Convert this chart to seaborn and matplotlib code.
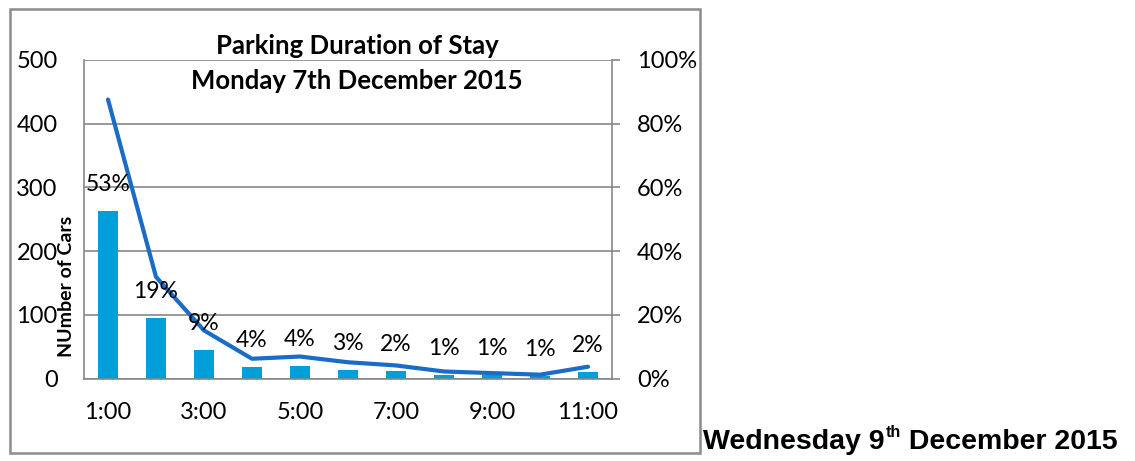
import numpy as np
import pandas as pd
import matplotlib
matplotlib.use("Agg")
import matplotlib.pyplot as plt
from matplotlib.patches import Rectangle
from matplotlib.ticker import PercentFormatter
import seaborn as sns

# Length-of-stay bands (hours) and the number of cars in each
durations = ["1:00", "2:00", "3:00", "4:00", "5:00", "6:00",
             "7:00", "8:00", "9:00", "10:00", "11:00"]
cars = [263, 95, 45, 18, 20, 14, 12, 6, 5, 4, 10]
# Series plotted on the secondary (percentage) axis
line_share = [0.876, 0.319, 0.151, 0.062, 0.069, 0.051,
              0.041, 0.022, 0.017, 0.012, 0.037]

title_lines = ["Parking Duration of Stay", "Monday 7th December 2015"]
left_ticks = [0, 100, 200, 300, 400, 500]
right_ticks = [0.0, 0.2, 0.4, 0.6, 0.8, 1.0]

df = pd.DataFrame({"duration": durations, "cars": cars, "share": line_share})
total = df["cars"].sum()
shares_of_total = [f"{round(c / total * 100):.0f}%" for c in df["cars"]]

BAR = "#009fda"
LINE = "#1a6cc6"
GRID = "#878787"
TICK_FS = 17

sns.set_style("white")
plt.rcParams["font.family"] = ["Lato", "DejaVu Sans"]
plt.rcParams["text.color"] = "black"
plt.rcParams["xtick.labelcolor"] = "black"
plt.rcParams["ytick.labelcolor"] = "black"

W, H = 1135, 461
fig = plt.figure(figsize=(W / 100, H / 100), dpi=100)
fig.patch.set_facecolor("white")


def fx(px):
    return px / W


def fy(py):
    return 1 - py / H


ax = fig.add_axes([fx(84), fy(378.5), fx(612 - 84), (378.5 - 60) / H])
sns.barplot(data=df, x="duration", y="cars", color=BAR, saturation=1,
            width=0.4, linewidth=0, ax=ax, zorder=2)

ax2 = ax.twinx()
sns.lineplot(data=df, x="duration", y="share", sort=False, color=LINE,
             linewidth=3.0, solid_capstyle="round", ax=ax2, zorder=3)

# Percentage-of-total labels above each bar
for i, (c, lab) in enumerate(zip(df["cars"], shares_of_total)):
    ax2.annotate(lab, xy=(i, c), xycoords=ax.transData,
                 xytext=(0, 19), textcoords="offset points",
                 ha="center", va="center", fontsize=16.5, color="black",
                 zorder=5)

# Left axis
ax.set_ylim(0, 500)
ax.set_yticks(left_ticks)
ax.set_xlim(-0.5, len(durations) - 0.5)
ax.set_xticks(range(0, len(durations), 2))
ax.set_xticklabels(durations[::2])
ax.tick_params(axis="y", length=0, pad=19, labelsize=TICK_FS,
               labelcolor="black")
ax.tick_params(axis="x", length=0, pad=17, labelsize=TICK_FS,
               labelcolor="black")
ax.set_xlabel("")
ax.set_ylabel("")
ax.set_axisbelow(True)
ax.yaxis.grid(True, color=GRID, linewidth=1.2)
for side in ["top", "right"]:
    ax.spines[side].set_visible(False)
for side in ["left", "bottom"]:
    ax.spines[side].set_color(GRID)
    ax.spines[side].set_linewidth(1.2)

# Right axis
ax2.set_ylim(0, 1)
ax2.set_yticks(right_ticks)
ax2.yaxis.set_major_formatter(PercentFormatter(1.0, decimals=0))
ax2.tick_params(axis="y", length=6, width=1.2, color=GRID, pad=12,
                labelsize=TICK_FS, direction="out", labelcolor="black")
ax2.set_ylabel("")
ax2.set_xlabel("")
for side in ["top", "left", "bottom"]:
    ax2.spines[side].set_visible(False)
ax2.spines["right"].set_color(GRID)
ax2.spines["right"].set_linewidth(1.2)
ax.set_xlim(-0.5, len(durations) - 0.5)

# Titles and axis caption
fig.text(fx(357), fy(46), title_lines[0], ha="center", va="center",
         fontsize=18.5, fontweight="bold", color="black")
fig.text(fx(357), fy(81), title_lines[1], ha="center", va="center",
         fontsize=18.5, fontweight="bold", color="black")
fig.text(fx(67), fy(286), "NUmber of Cars", rotation=90, ha="center",
         va="center", fontsize=14, fontweight="bold", color="black")

# Chart frame
fig.patches.append(Rectangle((fx(9.5), fy(452.5)), fx(690.5), 443.5 / H,
                             transform=fig.transFigure, fill=False,
                             edgecolor="#8c8c8c", linewidth=1.8))

# Caption to the right of the frame, with superscript ordinal
renderer = fig.canvas.get_renderer()
cap_kw = dict(fontsize=20.5, fontweight="bold", family="Liberation Sans",
              va="baseline", ha="left", color="black")
t1 = fig.text(fx(703), fy(449), "Wednesday 9", **cap_kw)
bb = t1.get_window_extent(renderer)
t2 = fig.text(bb.x1 / W + fx(1), fy(437),
              "th", fontsize=11.5, fontweight="bold", family="Liberation Sans",
              va="baseline", ha="left", color="black")
bb2 = t2.get_window_extent(renderer)
fig.text(bb2.x1 / W, fy(449), " December 2015", **cap_kw)

fig.savefig("out.png", dpi=100)
